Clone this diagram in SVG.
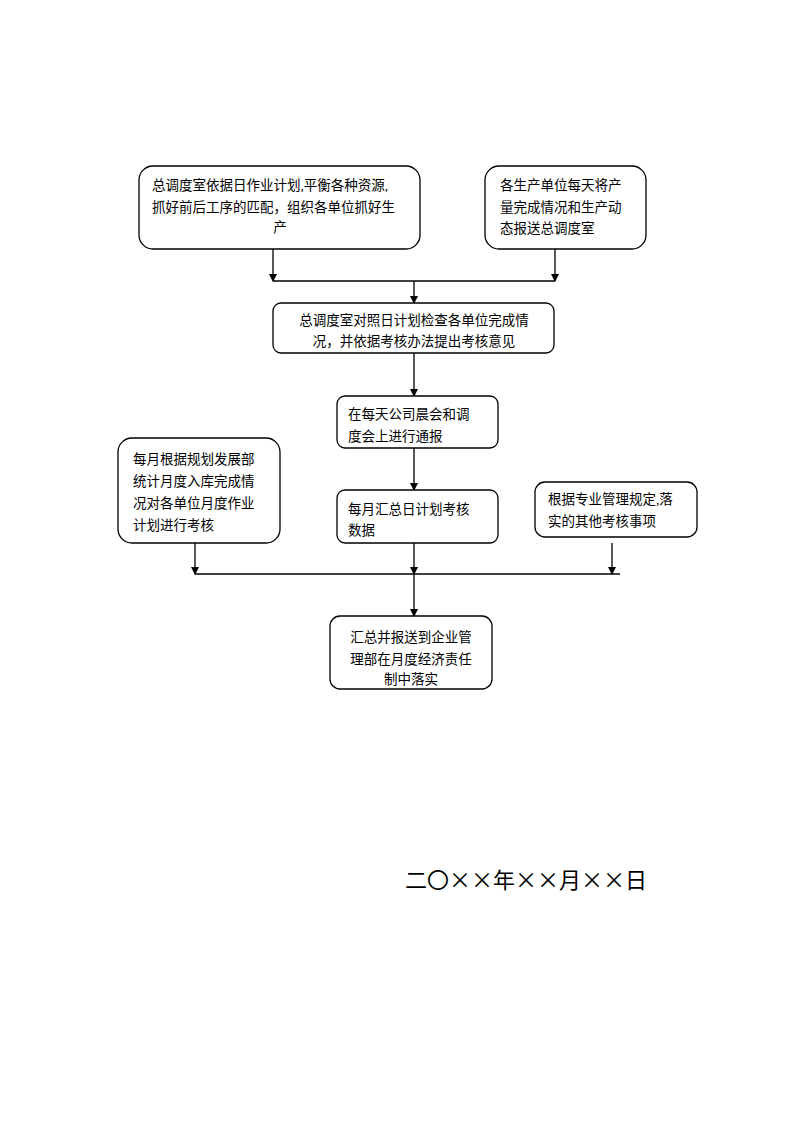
<svg xmlns="http://www.w3.org/2000/svg" width="800" height="1132" viewBox="0 0 800 1132">
<defs>
<marker id="ah" markerWidth="8" markerHeight="8" refX="7" refY="4" orient="auto" markerUnits="userSpaceOnUse"><path d="M0,0 L8,4 L0,8 z" fill="#000"/></marker>
<style>
rect{fill:#fff;stroke:#000;stroke-width:1.3}
text{font-family:"Liberation Serif","Noto Sans CJK SC",serif;font-size:13.5px;fill:#000}
.c{text-anchor:middle}
#connectors line{stroke:#000;stroke-width:1.3}
</style>
</defs>
<rect x="0" y="0" width="800" height="1132" style="stroke:none"/>
<g id="connectors">
<line x1="273" y1="249" x2="273" y2="281" marker-end="url(#ah)"/>
<line x1="555" y1="249" x2="555" y2="281" marker-end="url(#ah)"/>
<line x1="273" y1="281" x2="555" y2="281"/>
<line x1="414" y1="281" x2="414" y2="303" marker-end="url(#ah)"/>
<line x1="414" y1="353" x2="414" y2="396" marker-end="url(#ah)"/>
<line x1="414" y1="448" x2="414" y2="490" marker-end="url(#ah)"/>
<line x1="195" y1="543" x2="195" y2="574" marker-end="url(#ah)"/>
<line x1="414" y1="543" x2="414" y2="574" marker-end="url(#ah)"/>
<line x1="612" y1="543" x2="612" y2="574" marker-end="url(#ah)"/>
<line x1="195" y1="574" x2="620" y2="574"/>
<line x1="414" y1="574" x2="414" y2="616" marker-end="url(#ah)"/>
</g>
<g id="n1"><rect x="139" y="166" width="281" height="83" rx="14"/>
<text x="152" y="190">总调度室依据日作业计划,平衡各种资源,</text>
<text x="152" y="212">抓好前后工序的匹配，组织各单位抓好生</text>
<text x="280" y="232" class="c">产</text></g>
<g id="n2"><rect x="485" y="166" width="161" height="83" rx="14"/>
<text x="500" y="190">各生产单位每天将产</text>
<text x="500" y="212">量完成情况和生产动</text>
<text x="500" y="233">态报送总调度室</text></g>
<g id="n3"><rect x="273" y="303" width="281" height="50" rx="8"/>
<text x="414" y="325" class="c">总调度室对照日计划检查各单位完成情</text>
<text x="414" y="346" class="c">况，并依据考核办法提出考核意见</text></g>
<g id="n4"><rect x="337" y="396" width="161" height="52" rx="8"/>
<text x="348" y="419">在每天公司晨会和调</text>
<text x="348" y="441">度会上进行通报</text></g>
<g id="n5"><rect x="337" y="490" width="161" height="53" rx="8"/>
<text x="348" y="514">每月汇总日计划考核</text>
<text x="348" y="535">数据</text></g>
<g id="n6"><rect x="118" y="438" width="162" height="105" rx="14"/>
<text x="133" y="464">每月根据规划发展部</text>
<text x="133" y="486">统计月度入库完成情</text>
<text x="133" y="508">况对各单位月度作业</text>
<text x="133" y="530">计划进行考核</text></g>
<g id="n7"><rect x="535" y="482" width="162" height="55" rx="10"/>
<text x="548" y="504">根据专业管理规定,落</text>
<text x="548" y="526">实的其他考核事项</text></g>
<g id="n8"><rect x="330" y="616" width="162" height="73" rx="10"/>
<text x="411" y="642" class="c">汇总并报送到企业管</text>
<text x="411" y="664" class="c">理部在月度经济责任</text>
<text x="411" y="684" class="c">制中落实</text></g>
<text x="405" y="888" style="font-size:22px;font-family:'Noto Sans CJK SC',sans-serif">二〇××年××月××日</text>
</svg>
